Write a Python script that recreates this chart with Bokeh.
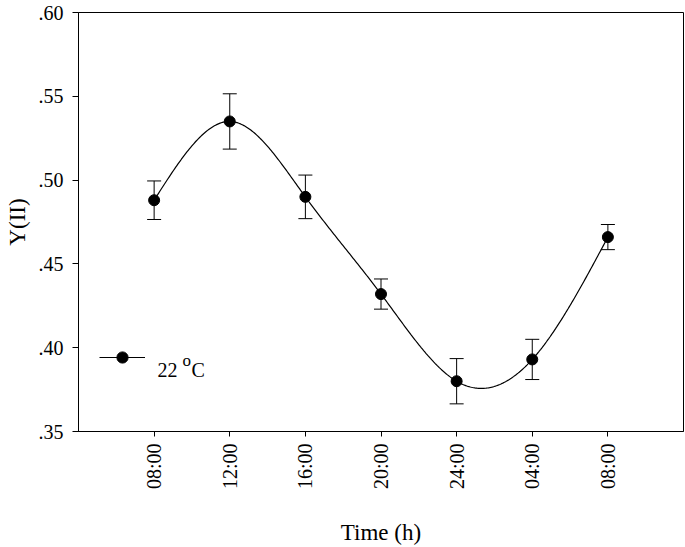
import math
import numpy as np
from bokeh.plotting import figure
from bokeh.models import (ColumnDataSource, Range1d, FixedTicker, Whisker, TeeHead,
                          Legend, LegendItem, Label, CustomJSTickFormatter)
from bokeh.embed import file_html
from bokeh.resources import INLINE

# ---- data ----
time_labels = ["08:00", "12:00", "16:00", "20:00", "24:00", "04:00", "08:00"]
y_values = [0.488, 0.535, 0.490, 0.432, 0.380, 0.393, 0.466]
y_errors = [0.0115, 0.0165, 0.013, 0.009, 0.0135, 0.012, 0.0075]
y_ticks = [0.35, 0.40, 0.45, 0.50, 0.55, 0.60]
series_name = "22"

x_idx = list(range(len(time_labels)))

# natural cubic spline through the measured points (curve drawn by the original software)
def natural_spline(x, y, xs):
    x = np.asarray(x, float); y = np.asarray(y, float)
    n = len(x); h = np.diff(x)
    A = np.zeros((n, n)); b = np.zeros(n)
    A[0, 0] = 1; A[-1, -1] = 1
    for i in range(1, n - 1):
        A[i, i - 1] = h[i - 1]
        A[i, i] = 2 * (h[i - 1] + h[i])
        A[i, i + 1] = h[i]
        b[i] = 6 * ((y[i + 1] - y[i]) / h[i] - (y[i] - y[i - 1]) / h[i - 1])
    M = np.linalg.solve(A, b)
    out = []
    for xv in xs:
        k = min(max(np.searchsorted(x, xv) - 1, 0), n - 2)
        hk = h[k]; a = (x[k + 1] - xv) / hk; t = (xv - x[k]) / hk
        out.append(a * y[k] + t * y[k + 1]
                   + ((a ** 3 - a) * M[k] + (t ** 3 - t) * M[k + 1]) * hk ** 2 / 6)
    return np.array(out)

xs = np.linspace(x_idx[0], x_idx[-1], 400)
ys = natural_spline(x_idx, y_values, xs)

pts = ColumnDataSource(dict(
    x=x_idx, y=y_values,
    upper=[v + e for v, e in zip(y_values, y_errors)],
    lower=[v - e for v, e in zip(y_values, y_errors)],
))
curve = ColumnDataSource(dict(x=xs, y=ys))

FONT = "Liberation Serif"

p = figure(output_backend="svg", toolbar_location=None,
           frame_width=605, frame_height=419,
           min_border_left=78, min_border_right=1, min_border_top=12, min_border_bottom=4,
           x_range=Range1d(-1, 7), y_range=Range1d(0.35, 0.60))
p.background_fill_color = "white"
p.border_fill_color = "white"
p.outline_line_color = "black"
p.outline_line_width = 1
p.xgrid.grid_line_color = None
p.ygrid.grid_line_color = None

line_r = p.line("x", "y", source=curve, line_color="black", line_width=1.2)
wh = Whisker(source=pts, base="x", upper="upper", lower="lower",
             line_color="black", line_width=1,
             upper_head=TeeHead(size=14, line_color="black", line_width=1),
             lower_head=TeeHead(size=14, line_color="black", line_width=1))
p.add_layout(wh)
sc_r = p.scatter("x", "y", source=pts, size=11, fill_color="black", line_color="black")

# axes
xa = p.xaxis[0]
xa.ticker = FixedTicker(ticks=x_idx, minor_ticks=[])
xa.major_label_overrides = {i: lab for i, lab in zip(x_idx, time_labels)}
xa.major_label_orientation = math.pi / 2
xa.axis_label = "Time (h)"
xa.major_tick_out = 5
xa.major_tick_in = 0
xa.major_label_standoff = 7
xa.axis_label_standoff = 28

ya = p.yaxis[0]
ya.ticker = FixedTicker(ticks=y_ticks, minor_ticks=[])
ya.formatter = CustomJSTickFormatter(code="return tick.toFixed(2).replace(/^0/, '');")
ya.axis_label = "Y(II)"
ya.major_tick_out = 6
ya.major_tick_in = 0
ya.major_label_standoff = 9
ya.axis_label_standoff = 6

for ax in (xa, ya):
    ax.axis_line_color = "black"
    ax.major_tick_line_color = "black"
    ax.minor_tick_line_color = None
    ax.major_label_text_font = FONT
    ax.major_label_text_font_size = "20px"
    ax.major_label_text_color = "black"
    ax.axis_label_text_font = FONT
    ax.axis_label_text_font_size = "23px"
    ax.axis_label_text_font_style = "normal"
    ax.axis_label_text_color = "black"

# legend: glyph sample from Bokeh's legend, text "22 °C" (superscript o) as labels
leg = Legend(items=[LegendItem(label="", renderers=[line_r, sc_r])],
             location=(21, 60), orientation="vertical",
             glyph_width=46, glyph_height=28, label_height=28, label_standoff=0,
             label_width=0, padding=0, margin=0, spacing=0,
             border_line_color=None, background_fill_alpha=0,
             label_text_font=FONT, label_text_font_size="20px", label_text_color="black")
p.add_layout(leg, "center")
p.add_layout(Label(x=79, y=62, x_units="screen", y_units="screen", text=series_name,
                   text_font=FONT, text_font_size="20px", text_color="black",
                   text_baseline="alphabetic"))
p.add_layout(Label(x=104, y=71, x_units="screen", y_units="screen", text="o",
                   text_font=FONT, text_font_size="17px", text_color="black",
                   text_baseline="alphabetic"))
p.add_layout(Label(x=113, y=62, x_units="screen", y_units="screen", text="C",
                   text_font=FONT, text_font_size="20px", text_color="black",
                   text_baseline="alphabetic"))

open("out.html", "w").write(file_html(p, INLINE))
